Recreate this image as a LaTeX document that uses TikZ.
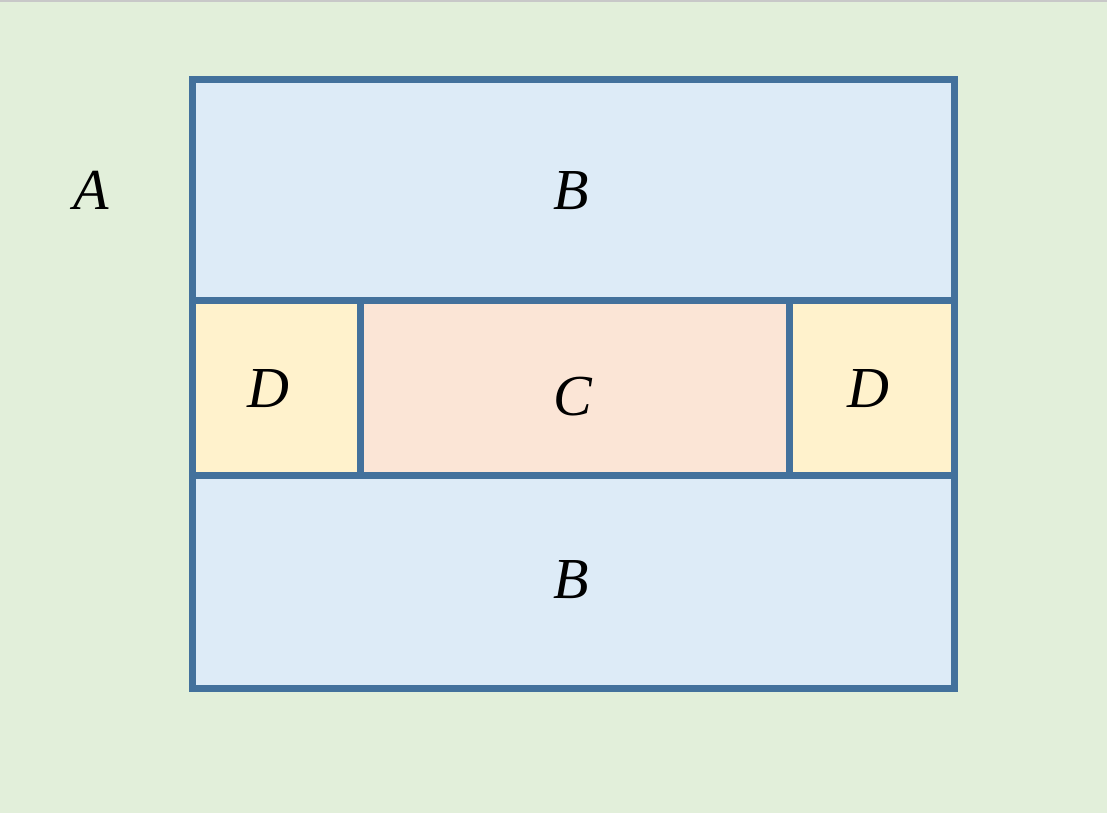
\documentclass[tikz,border=0pt]{standalone}
\usepackage{fontspec}
\setmainfont{Liberation Serif}
\definecolor{bgc}{HTML}{E2EFDA}
\definecolor{bluef}{HTML}{DDEBF7}
\definecolor{yelf}{HTML}{FFF2CC}
\definecolor{peachf}{HTML}{FBE5D6}
\definecolor{edge}{HTML}{43719C}
\definecolor{topline}{HTML}{C8C8C8}
\tikzset{
  region/.style={draw=edge, line width=7pt},
  lab/.style={font=\fontsize{58}{58}\selectfont\itshape, text=black, inner sep=0pt}
}
\begin{document}
\begin{tikzpicture}[x=1pt,y=-1pt]
\useasboundingbox (0,0) rectangle (1107,812);
\fill[bgc] (-1,-1) rectangle (1108,813);
\fill[topline] (-1,-1) rectangle (1108,1.5);
% regions
\filldraw[region, fill=bluef] (192.5,79.5) rectangle (954.5,300.5);
\filldraw[region, fill=bluef] (192.5,475.5) rectangle (954.5,688.5);
\filldraw[region, fill=yelf] (192.5,300.5) rectangle (360,475.5);
\filldraw[region, fill=peachf] (360,300.5) rectangle (789,475.5);
\filldraw[region, fill=yelf] (789,300.5) rectangle (954.5,475.5);
\draw[region, line join=miter] (192.5,79.5) rectangle (954.5,688.5);
% labels
\node[lab] (a) at (91,190) {A};
\node[lab] (b1) at (571,191) {B};
\node[lab] (dl) at (268,389) {D};
\node[lab] (c) at (573,397) {C};
\node[lab] (dr) at (868,389) {D};
\node[lab] (b2) at (571,580) {B};
\end{tikzpicture}
\end{document}
